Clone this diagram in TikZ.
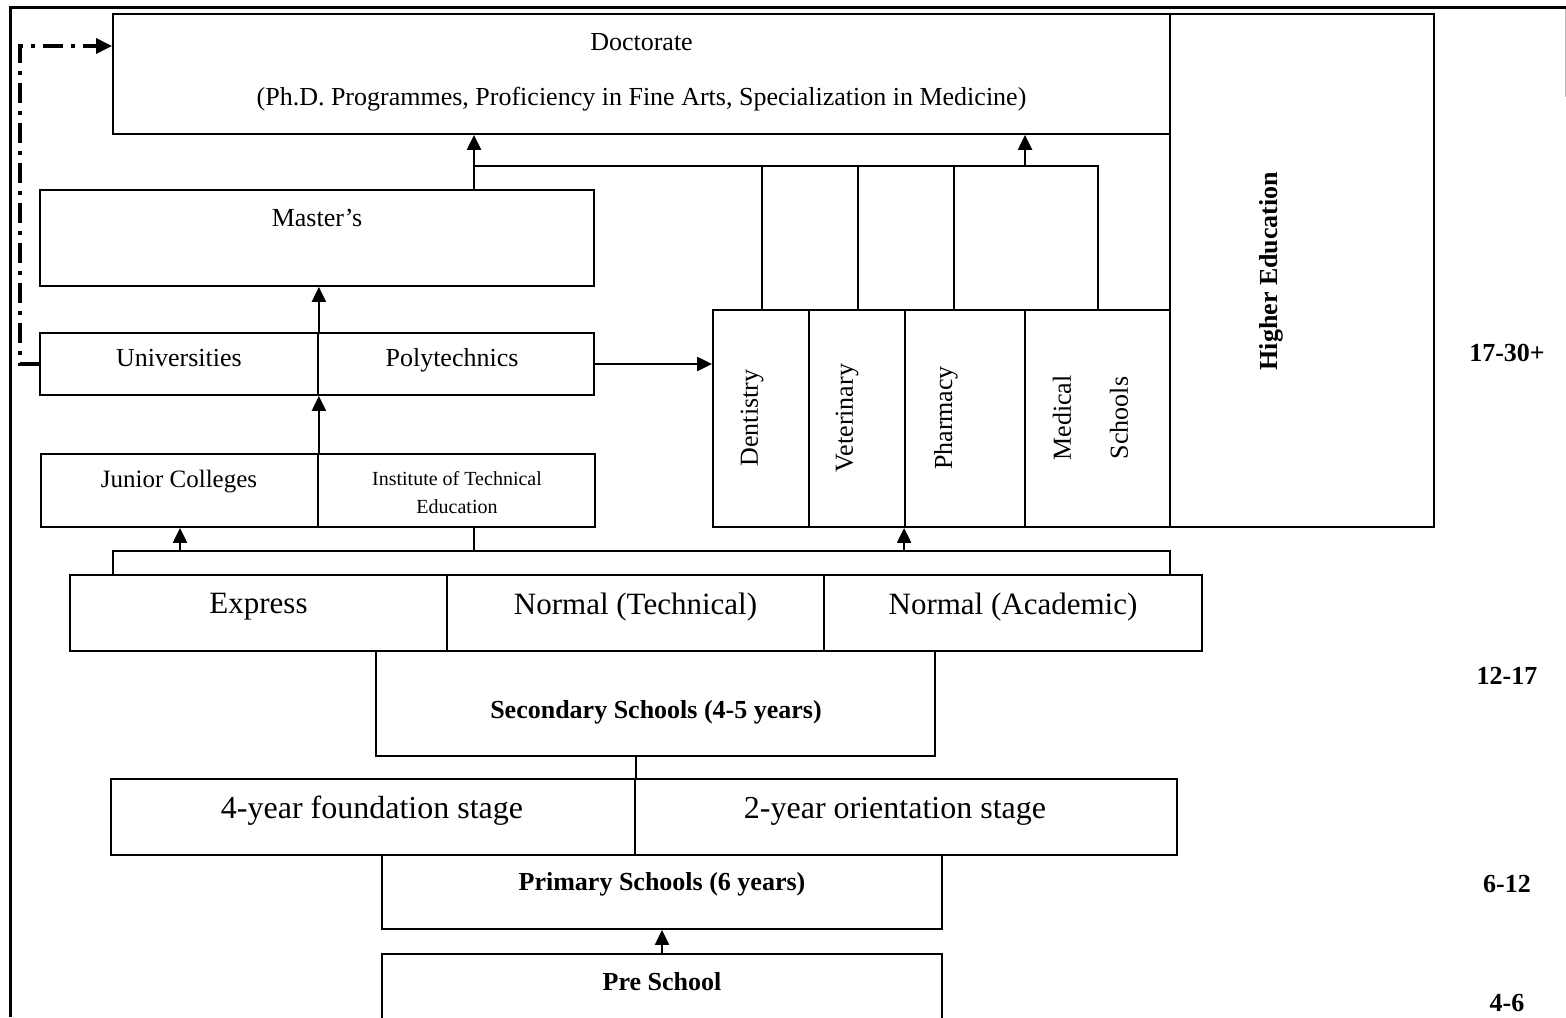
\documentclass[tikz,border=0pt]{standalone}
\usepackage{fontspec}
\setmainfont{Liberation Serif}
\usetikzlibrary{arrows.meta,fit}
\begin{document}
\begin{tikzpicture}[x=0.5pt,y=-0.5pt,
  box/.style={draw,line width=0.9pt,inner sep=0pt},
  txt/.style={inner sep=0pt,align=center},
  f/.style={font=\fontsize{#1pt}{#1pt}\selectfont},
  bf/.style={font=\fontsize{#1pt}{#1pt}\selectfont\bfseries},
  conn/.style={line width=0.9pt},
  arr/.style={line width=1.1pt,-{Triangle[length=7.5pt,width=7pt]}},
  dashdot/.style={line width=1.6pt,dash pattern=on 10pt off 4pt on 2pt off 4pt,-{Triangle[length=8pt,width=7.5pt]}}]
\path[use as bounding box,clip] (0,0) rectangle (1566,1017);
% outer frame
\draw[line width=1.5pt] (10,1017) -- (10,7) -- (1566,7);
\draw[gray!50,line width=0.5pt] (1565,9) -- (1565,97);
% doctorate and higher education
\node[box,fit={(113,14)(1170,134)}] (doc) {};
\node[txt,f=13] (docA) at (641.5,42) {Doctorate};
\node[txt,f=13] (docB) at (641.5,99) {(Ph.D. Programmes, Proficiency in Fine Arts, Specialization in Medicine)};
\node[box,fit={(1170,14)(1434,527)}] (he) {};
\node[txt,bf=13,rotate=90] (heT) at (1271,271) {Higher Education};
% master's
\node[box,fit={(40,190)(594,286)}] (mas) {};
\node[txt,f=13] (masT) at (317,218) {Master’s};
% universities / polytechnics
\node[box,fit={(40,333)(318,395)}] (uni) {};
\node[box,fit={(318,333)(594,395)}] (poly) {};
\node[txt,f=13] (uniT) at (179,358) {Universities};
\node[txt,f=13] (polyT) at (452,360) {Polytechnics};
% junior colleges / ITE
\node[box,fit={(41,454)(318,527)}] (jc) {};
\node[box,fit={(318,454)(595,527)}] (ite) {};
\node[txt,f=12.5] (jcT) at (179,482) {Junior Colleges};
\node[txt,font=\fontsize{10pt}{14pt}\selectfont] (iteT) at (457,493) {Institute of Technical\\Education};
% professional schools
\node[box,fit={(713,310)(809,527)}] (dent) {};
\node[box,fit={(809,310)(905,527)}] (vet) {};
\node[box,fit={(905,310)(1025,527)}] (pha) {};
\node[box,fit={(1025,310)(1170,527)}] (med) {};
\node[txt,f=13,rotate=90] (dentT) at (752,418) {Dentistry};
\node[txt,f=13,rotate=90] (vetT) at (847,418) {Veterinary};
\node[txt,f=13,rotate=90] (phaT) at (946,418) {Pharmacy};
\node[txt,font=\fontsize{13pt}{28.5pt}\selectfont,rotate=90] (medT) at (1090.5,418) {Medical\\Schools};
% secondary streams
\node[box,fit={(70,575)(447,651)}] (exp) {};
\node[box,fit={(447,575)(824,651)}] (nt) {};
\node[box,fit={(824,575)(1202,651)}] (na) {};
\node[txt,f=15.5] (expT) at (258.5,607) {Express};
\node[txt,f=15.5] (ntT) at (635.5,607) {Normal (Technical)};
\node[txt,f=15.5] (naT) at (1013,607) {Normal (Academic)};
\node[box,fit={(376,651)(935,756)}] (sec) {};
\node[txt,bf=13] (secT) at (656,712) {Secondary Schools (4-5 years)};
% primary
\node[box,fit={(111,779)(635,855)}] (fnd) {};
\node[box,fit={(635,779)(1177,855)}] (ori) {};
\node[txt,f=16] (fndT) at (372,811) {4-year foundation stage};
\node[txt,f=16] (oriT) at (895,811) {2-year orientation stage};
\node[box,fit={(382,855)(942,929)}] (pri) {};
\node[txt,bf=13] (priT) at (662,884) {Primary Schools (6 years)};
\node[box,fit={(382,954)(942,1040)}] (pre) {};
\node[txt,bf=13] (preT) at (662,982) {Pre School};
% ages
\node[txt,bf=13] (age1) at (1507,353) {17-30+};
\node[txt,bf=13] (age2) at (1507,676) {12-17};
\node[txt,bf=13] (age3) at (1507,884) {6-12};
\node[txt,bf=13] (age4) at (1507,1003) {4-6};
% top connectors
\coordinate (tA) at (474,166);
\coordinate (tB) at (1025,166);
\coordinate (tE) at (1098,166);
\coordinate (c1) at (762,166);
\coordinate (c2) at (858,166);
\coordinate (c3) at (954,166);
\draw[arr] (tA |- mas.north) -- (tA |- doc.south);
\draw[conn] (tA) -- (tE) -- (tE |- med.north);
\draw[conn] (c1) -- (c1 |- dent.north);
\draw[conn] (c2) -- (c2 |- vet.north);
\draw[conn] (c3) -- (c3 |- pha.north);
\draw[arr] (tB) -- (tB |- doc.south);
% middle connectors
\draw[arr] (uni.north east) -- (uni.north east |- mas.south);
\draw[arr] (jc.north east) -- (jc.north east |- uni.south);
\draw[arr] (poly.east) -- (poly.east -| dent.west);
\coordinate (dd) at (20,46);
\draw[dashdot] (uni.west) -| (dd) -- (dd -| doc.west);
% bottom bracket
\coordinate (bL) at (113,551);
\coordinate (bR) at (1170,551);
\coordinate (b1) at (180,551);
\coordinate (b2) at (474,551);
\draw[conn] (bL |- exp.north) -- (bL) -- (bR) -- (bR |- na.north);
\draw[arr] (b1) -- (b1 |- jc.south);
\draw[conn] (b2) -- (b2 |- ite.south);
\draw[arr] (pha.south west |- bL) -- (pha.south west);
% lower connectors
\draw[conn] (fnd.north east |- sec.south) -- (fnd.north east);
\draw[arr] (pre.north) -- (pri.south);
\end{tikzpicture}
\end{document}
